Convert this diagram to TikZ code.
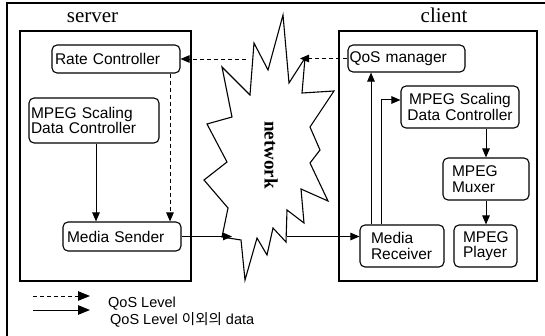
\documentclass[tikz,border=0pt]{standalone}
\usepackage{fontspec}
\setmainfont{Liberation Serif}
\newfontfamily\labfont{Liberation Sans}
\newfontfamily\krfont{Noto Sans CJK KR}
\usetikzlibrary{arrows.meta}
\begin{document}
\begin{tikzpicture}[x=1pt,y=-1pt,
  box/.style={draw, rounded corners=5pt, line width=1.1pt, inner ysep=0pt, align=left,
              font=\labfont\fontsize{15.5}{15.5}\selectfont},
  frame/.style={draw, line width=1.2pt, inner sep=0pt},
  tipA/.style={-{Triangle[length=9pt,width=7.5pt]}},
  tipB/.style={-{Triangle[length=12pt,width=9.5pt]}},
  qosline/.style={dash pattern=on 4pt off 3pt, line width=0.9pt},
  datline/.style={line width=1pt},
  title/.style={font=\fontsize{21}{21}\selectfont, anchor=base, inner sep=0pt},
  legtext/.style={font=\labfont\fontsize{14.5}{14.5}\selectfont, anchor=base west, inner sep=0pt},
  ]
\useasboundingbox (0,0) rectangle (545,336);
% outer frame (top and left only)
\draw[line width=1.2pt] (7,336) -- (7,3) -- (545,3);
% group boxes
\node[frame, minimum width=171pt, minimum height=250pt] (srv) at (105.5,156) {};
\node[frame, minimum width=198pt, minimum height=250pt] (cli) at (438,156) {};
\node[title] (srvlab) at (92.5,23) {server};
\node[title] (clilab) at (444,23) {client};
% network cloud
\draw[line width=1.1pt, fill=white] (283,15) -- (289,83) -- (305,58) -- (302,93) -- (334,91)
  -- (310,127) -- (320,150) -- (310,163) -- (328,201) -- (301,189) -- (304,223)
  -- (287,210) -- (286,242) -- (273,228) -- (267,255) -- (257,238) -- (245,280)
  -- (241,240) -- (222,237) -- (228,208) -- (204,180) -- (227,162) -- (207,124)
  -- (232,117) -- (222,67) -- (250,95) -- (254,43) -- (268,70) -- cycle;
\node[font=\bfseries\fontsize{19}{19}\selectfont, rotate=-90, inner sep=0pt] (net) at (271,155) {network};
% server nodes
\node[box, inner xsep=3pt, text width=122pt, minimum height=28pt] (rate) at (116,59) {Rate Controller};
\node[box, inner xsep=2pt, text width=126pt, minimum height=45pt] (sdcS) at (94,120.5) {MPEG Scaling\\Data Controller};
\node[box, inner xsep=4pt, text width=110pt, minimum height=29pt] (sender) at (122,236.5) {Media Sender};
% client nodes
\node[box, inner xsep=1.5pt, text width=114pt, minimum height=27pt] (qosm) at (406.5,58.5) {QoS manager};
\node[box, inner xsep=3pt, text width=112pt, minimum height=42pt, align=center] (sdcC) at (460,107) {MPEG Scaling\\Data Controller};
\node[box, inner xsep=9pt, text width=68pt, minimum height=42pt] (muxer) at (486,179) {MPEG\\Muxer};
\node[box, inner xsep=9pt, text width=45pt, minimum height=42pt] (player) at (485.5,246) {MPEG\\Player};
\node[box, inner xsep=11pt, text width=62pt, minimum height=42pt] (recv) at (402,246) {Media\\Receiver};
% free ends at the cloud
\coordinate (netL) at (246,59);
\coordinate (netQ) at (300,58.5);
\coordinate (netIn) at (232,236.5);
\coordinate (netOut) at (287,236.5);
% connectors
\draw[qosline, tipA] (netL) -- (rate.east);
\draw[qosline, tipA] (qosm.west) -- (netQ);
\draw[datline, tipA] ([xshift=2pt]sdcS.south) -- ([xshift=2pt]sdcS.south |- sender.north);
\draw[qosline, tipA] ([xshift=54pt]rate.south) -- ([xshift=54pt]rate.south |- sender.north);
\draw[datline, tipA] (sender.east) -- (netIn);
\draw[datline, tipA] (netOut) -- (netOut -| recv.west);
\draw[datline, tipA] ([xshift=-31pt]recv.north) -- ([xshift=-31pt]recv.north |- qosm.south);
\draw[datline, tipA] ([xshift=-21pt]recv.north) |- ([yshift=7pt]sdcC.west);
\draw[datline, tipA] (muxer.north |- sdcC.south) -- (muxer.north);
\draw[datline, tipA] (muxer.south) -- (muxer.south |- player.north);
% legend
\coordinate (l1a) at (33,296); \coordinate (l1b) at (90,296);
\coordinate (l2a) at (33,310); \coordinate (l2b) at (90,310);
\draw[qosline, tipB] (l1a) -- (l1b);
\draw[datline, tipB] (l2a) -- (l2b);
\node[legtext] (leg1) at (108,307.5) {QoS Level};
\node[legtext] (leg2) at (110,324) {QoS Level {\krfont 이외의} data};
\end{tikzpicture}
\end{document}
